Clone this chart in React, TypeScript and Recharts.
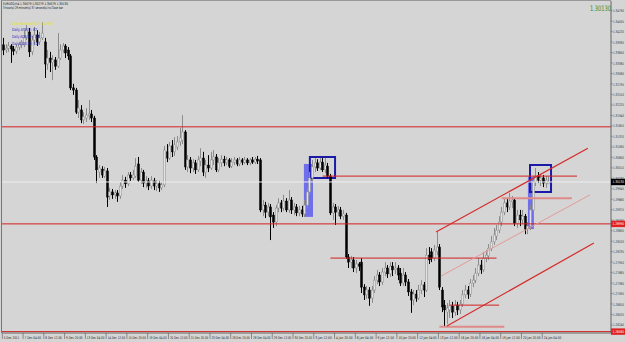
import React from 'react';
import { ComposedChart, Bar, XAxis, YAxis, ReferenceLine, ReferenceArea } from 'recharts';

const opens = [1.3386,1.3372,1.3377,1.3383,1.3375,1.3369,1.3380,1.3386,1.3386,1.3405,1.3421,1.3367,1.3399,1.3413,1.3394,1.3405,1.3394,1.3334,1.3350,1.3339,1.3345,1.3328,1.3350,1.3372,1.3383,1.3372,1.3356,1.3269,1.3263,1.3203,1.3209,1.3182,1.3187,1.3193,1.3198,1.3187,1.3081,1.3040,1.3048,1.3029,1.3043,1.2975,1.2986,1.2978,1.2983,1.2975,1.3002,1.3018,1.3008,1.3032,1.3024,1.3029,1.3062,1.3018,1.3040,1.3010,1.3016,1.3002,1.3016,1.3002,1.3008,1.2997,1.3005,1.3095,1.3078,1.3111,1.3095,1.3108,1.3122,1.3127,1.3149,1.3054,1.3073,1.3051,1.3065,1.3046,1.3070,1.3078,1.3040,1.3059,1.3051,1.3073,1.3081,1.3046,1.3065,1.3075,1.3065,1.3073,1.3056,1.3067,1.3073,1.3062,1.3073,1.3067,1.3073,1.3065,1.3073,1.3067,1.3075,1.3073,1.2937,1.2950,1.2931,1.2945,1.2923,1.2904,1.2942,1.2956,1.2942,1.2961,1.2937,1.2964,1.2937,1.2945,1.2929,1.2937,1.2926,1.2950,1.2986,1.3024,1.3054,1.3065,1.3051,1.3067,1.3046,1.3056,1.3029,1.2929,1.2945,1.2931,1.2937,1.2920,1.2923,1.2809,1.2795,1.2801,1.2779,1.2790,1.2795,1.2727,1.2706,1.2719,1.2697,1.2719,1.2746,1.2760,1.2741,1.2768,1.2779,1.2763,1.2784,1.2774,1.2779,1.2765,1.2738,1.2760,1.2741,1.2714,1.2692,1.2708,1.2697,1.2719,1.2733,1.2719,1.2814,1.2823,1.2806,1.2823,1.2836,1.2719,1.2678,1.2659,1.2665,1.2676,1.2659,1.2678,1.2665,1.2681,1.2706,1.2719,1.2708,1.2738,1.2746,1.2765,1.2787,1.2774,1.2806,1.2812,1.2833,1.2850,1.2866,1.2882,1.2904,1.2931,1.2956,1.2945,1.2959,1.2964,1.2901,1.2923,1.2910,1.2920,1.2885,1.2893,1.2937,1.3013,1.3029,1.3018,1.3024,1.3010,1.30079];
const highs = [1.3405,1.3388,1.3394,1.3388,1.3383,1.3388,1.3394,1.3399,1.3426,1.3440,1.3432,1.3410,1.3435,1.3426,1.3421,1.3448,1.3405,1.3372,1.3367,1.3358,1.3353,1.3418,1.3388,1.3391,1.3388,1.3380,1.3361,1.3280,1.3269,1.3236,1.3222,1.3203,1.3214,1.3236,1.3209,1.3193,1.3086,1.3059,1.3056,1.3054,1.3051,1.2997,1.2994,1.2991,1.2991,1.3013,1.3032,1.3027,1.3040,1.3040,1.3046,1.3078,1.3081,1.3051,1.3046,1.3029,1.3024,1.3029,1.3024,1.3018,1.3016,1.3013,1.3111,1.3116,1.3122,1.3127,1.3135,1.3138,1.3160,1.3195,1.3154,1.3086,1.3081,1.3075,1.3073,1.3084,1.3105,1.3095,1.3073,1.3086,1.3095,1.3100,1.3089,1.3078,1.3086,1.3084,1.3081,1.3078,1.3078,1.3081,1.3078,1.3081,1.3078,1.3081,1.3078,1.3078,1.3081,1.3081,1.3084,1.3078,1.2964,1.2959,1.2956,1.2953,1.2931,1.2950,1.2969,1.2964,1.2978,1.2969,1.2991,1.2972,1.2956,1.2953,1.2948,1.2948,1.2964,1.2997,1.3040,1.3073,1.3078,1.3075,1.3078,1.3078,1.3078,1.3065,1.3035,1.2956,1.2953,1.2948,1.2945,1.2937,1.2929,1.2817,1.2812,1.2809,1.2801,1.2795,1.2806,1.2735,1.2730,1.2727,1.2730,1.2757,1.2774,1.2768,1.2779,1.2795,1.2787,1.2795,1.2795,1.2795,1.2787,1.2779,1.2779,1.2768,1.2749,1.2722,1.2719,1.2719,1.2733,1.2746,1.2741,1.2833,1.2836,1.2833,1.2842,1.2877,1.2844,1.2727,1.2692,1.2684,1.2692,1.2687,1.2692,1.2687,1.2692,1.2719,1.2733,1.2730,1.2749,1.2760,1.2779,1.2806,1.2801,1.2823,1.2828,1.2844,1.2866,1.2888,1.2896,1.2920,1.2945,1.2969,1.2969,1.2983,1.2975,1.2969,1.2937,1.2937,1.2937,1.2926,1.2904,1.2950,1.3029,1.3051,1.3040,1.3035,1.3032,1.3029,1.30279];
const lows = [1.3358,1.3364,1.3367,1.3337,1.3358,1.3361,1.3372,1.3377,1.3380,1.3399,1.3353,1.3358,1.3386,1.3383,1.3386,1.3399,1.3296,1.3318,1.3312,1.3290,1.3318,1.3323,1.3345,1.3364,1.3350,1.3345,1.3263,1.3250,1.3198,1.3187,1.3173,1.3171,1.3176,1.3182,1.3176,1.3073,1.3010,1.3024,1.3024,1.3024,1.2945,1.2964,1.2967,1.2967,1.2959,1.2967,1.2994,1.2997,1.3002,1.3016,1.3018,1.3024,1.3013,1.3008,1.2999,1.2997,1.2991,1.2994,1.2991,1.2988,1.2986,1.2991,1.2999,1.3067,1.3073,1.3081,1.3084,1.3100,1.3111,1.3116,1.3046,1.3040,1.3037,1.3040,1.3035,1.3040,1.3056,1.3029,1.3024,1.3040,1.3046,1.3059,1.3040,1.3040,1.3054,1.3056,1.3059,1.3051,1.3051,1.3059,1.3056,1.3056,1.3059,1.3062,1.3059,1.3059,1.3062,1.3062,1.3062,1.2931,1.2920,1.2915,1.2920,1.2855,1.2888,1.2893,1.2931,1.2931,1.2934,1.2931,1.2929,1.2926,1.2923,1.2920,1.2920,1.2918,1.2918,1.2942,1.2978,1.3016,1.3040,1.3043,1.3046,1.3040,1.3037,1.3024,1.2923,1.2910,1.2896,1.2920,1.2912,1.2910,1.2804,1.2779,1.2779,1.2768,1.2765,1.2771,1.2711,1.2692,1.2695,1.2676,1.2684,1.2711,1.2735,1.2730,1.2733,1.2757,1.2752,1.2755,1.2757,1.2763,1.2746,1.2730,1.2730,1.2730,1.2703,1.2657,1.2678,1.2687,1.2692,1.2708,1.2700,1.2714,1.2790,1.2795,1.2798,1.2814,1.2719,1.2659,1.2619,1.2627,1.2643,1.2643,1.2649,1.2651,1.2654,1.2673,1.2697,1.2695,1.2700,1.2727,1.2738,1.2757,1.2763,1.2768,1.2795,1.2801,1.2825,1.2842,1.2855,1.2874,1.2893,1.2923,1.2931,1.2937,1.2942,1.2893,1.2888,1.2893,1.2899,1.2871,1.2871,1.2882,1.2929,1.3002,1.3010,1.3002,1.2999,1.2997,1.30079];
const closes = [1.3372,1.3377,1.3383,1.3375,1.3369,1.3380,1.3386,1.3394,1.3405,1.3426,1.3367,1.3399,1.3413,1.3394,1.3405,1.3418,1.3334,1.3350,1.3339,1.3345,1.3328,1.3350,1.3372,1.3383,1.3364,1.3356,1.3269,1.3263,1.3203,1.3214,1.3182,1.3190,1.3195,1.3198,1.3187,1.3081,1.3046,1.3051,1.3032,1.3043,1.2972,1.2986,1.2978,1.2983,1.2975,1.3002,1.3018,1.3008,1.3032,1.3024,1.3032,1.3056,1.3018,1.3040,1.3010,1.3016,1.3002,1.3018,1.3002,1.3008,1.2997,1.3005,1.3100,1.3078,1.3111,1.3095,1.3114,1.3122,1.3133,1.3149,1.3054,1.3073,1.3051,1.3065,1.3046,1.3073,1.3078,1.3040,1.3059,1.3051,1.3073,1.3081,1.3046,1.3065,1.3075,1.3065,1.3073,1.3056,1.3067,1.3073,1.3062,1.3073,1.3067,1.3073,1.3065,1.3073,1.3067,1.3075,1.3070,1.2937,1.2950,1.2931,1.2945,1.2918,1.2904,1.2942,1.2956,1.2942,1.2961,1.2937,1.2964,1.2937,1.2945,1.2929,1.2937,1.2926,1.2950,1.2986,1.3024,1.3054,1.3065,1.3051,1.3067,1.3046,1.3059,1.3029,1.2929,1.2945,1.2931,1.2937,1.2920,1.2926,1.2809,1.2795,1.2801,1.2779,1.2790,1.2784,1.2727,1.2706,1.2719,1.2697,1.2719,1.2746,1.2760,1.2741,1.2768,1.2779,1.2763,1.2784,1.2774,1.2779,1.2760,1.2738,1.2760,1.2741,1.2714,1.2692,1.2708,1.2697,1.2719,1.2733,1.2719,1.2814,1.2801,1.2806,1.2828,1.2836,1.2727,1.2673,1.2665,1.2670,1.2676,1.2659,1.2678,1.2665,1.2681,1.2706,1.2719,1.2708,1.2738,1.2746,1.2765,1.2787,1.2774,1.2806,1.2814,1.2833,1.2850,1.2869,1.2882,1.2904,1.2931,1.2956,1.2945,1.2961,1.2964,1.2901,1.2923,1.2910,1.2920,1.2885,1.2893,1.2937,1.3013,1.3029,1.3018,1.3024,1.3010,1.3018,1.30130];

const timeLabels = ['5 Dec 2011','7 Dec 04:00','8 Dec 12:00','9 Dec 20:00','13 Dec 04:00','14 Dec 12:00','15 Dec 20:00','19 Dec 04:00','20 Dec 12:00','21 Dec 20:00','23 Dec 04:00','26 Dec 20:00','28 Dec 04:00','29 Dec 12:00','30 Dec 20:00','3 Jan 12:00','4 Jan 20:00','6 Jan 04:00','9 Jan 12:00','10 Jan 20:00','12 Jan 04:00','13 Jan 12:00','16 Jan 20:00','18 Jan 04:00','19 Jan 12:00','20 Jan 20:00','24 Jan 04:00'];
const barsPerLabel = 8;
const priceTicks = [1.34790,1.34505,1.34220,1.33935,1.33650,1.33365,1.33080,1.32795,1.32510,1.32225,1.31940,1.31655,1.31370,1.31085,1.30800,1.30515,1.30230,1.29945,1.29660,1.29375,1.29090,1.28805,1.28520,1.28235,1.27950,1.27665,1.27380,1.27095,1.26810,1.26525,1.26240];

const currentPrice = 1.30130;
const fullLevels = [1.3163, 1.2899, 1.2606];
const redLabelLevels = [1.2899, 1.2606];
const segLevels = [
  { price: 1.3029, from: 123, to: 221 },
  { price: 1.2806, from: 126, to: 190 },
  { price: 1.2678, from: 172, to: 191 },
];
const pinkLevels = [
  { price: 1.2969, from: 192, to: 219 },
  { price: 1.2619, from: 168, to: 193 },
];
const channel = [
  { x1: 166.7, y1: 1.2877, x2: 225.2, y2: 1.3105, color: '#d42a2a', w: 1.2 },
  { x1: 168.6, y1: 1.2757, x2: 226.0, y2: 1.2978, color: '#e49a9a', w: 1 },
  { x1: 170.9, y1: 1.2621, x2: 227.5, y2: 1.2847, color: '#d42a2a', w: 1.2 },
];
const blueFills = [
  { x1: 115.8, x2: 119.3, y1: 1.2918, y2: 1.3062 },
  { x1: 202.1, x2: 204.4, y1: 1.2885, y2: 1.3027 },
];
const blueBoxes = [
  { x1: 118.1, x2: 127.8, y1: 1.3024, y2: 1.3081 },
  { x1: 202.9, x2: 211.0, y1: 1.2986, y2: 1.3059 },
];

const titleText = 'EURUSD,H4  1.30079 1.30279 1.30079 1.30130';
const timerText = '3 hour(s) 29 minute(s) 37 second(s) to Close bar';
const yellowText = 'Daily Movement(3): 100.00%';
const blueTexts = ['Daily ATR(5): 87', 'Daily ADR(10): 100', 'Daily ADR(20): 117'];

const data = opens.map((o, i) => ({
  i,
  open: o,
  high: highs[i],
  low: lows[i],
  close: closes[i],
  range: [lows[i], highs[i]],
}));

const W = 625;
const H = 342;
const AXIS_Y = 333;
const AXIS_X = 611;
const FONT = 'DejaVu Sans, sans-serif';

const Candle = (props: any) => {
  const { x, y, width, height, payload } = props;
  if (x == null || y == null || !payload) return null;
  const top = height >= 0 ? y : y + height;
  const h = Math.abs(height);
  const { open, close, high, low } = payload;
  const span = high - low || 1e-9;
  const py = (v: number) => top + ((high - v) / span) * h;
  const cx = Math.round(x + width / 2) + 0.5;
  const bull = close >= open;
  const bTop = py(Math.max(open, close));
  const bBot = py(Math.min(open, close));
  const col = bull ? '#8c8c8c' : '#000000';
  return (
    <g>
      <line x1={cx} x2={cx} y1={top} y2={top + h} stroke={col} strokeWidth={1} />
      <rect
        x={cx - 1}
        y={bTop}
        width={2}
        height={Math.max(bBot - bTop, 0.8)}
        fill={bull ? '#e2e2e2' : '#000000'}
        stroke={col}
        strokeWidth={0.5}
      />
    </g>
  );
};

const TimeTick = (props: any) => {
  const { x, payload } = props;
  const idx = Math.round(payload.value / barsPerLabel);
  const label = timeLabels[idx];
  if (!label) return null;
  const len = label.length >= 12 ? 17.5 : label.length >= 11 ? 16.5 : 15.5;
  return (
    <g>
      <line x1={x - 1} x2={x - 1} y1={AXIS_Y} y2={AXIS_Y + 6} stroke="#555" strokeWidth={0.6} />
      <text x={x + 0.5} y={AXIS_Y + 6} fontSize={3.6} fontFamily={FONT} fill="#222" textLength={len} lengthAdjust="spacingAndGlyphs">
        {label}
      </text>
    </g>
  );
};

const PriceTick = (props: any) => {
  const { y, payload } = props;
  const v = payload.value;
  const isCur = Math.abs(v - currentPrice) < 1e-7;
  const isRed = redLabelLevels.some((p) => Math.abs(p - v) < 1e-7);
  const txt = v.toFixed(5);
  if (isCur || isRed) {
    return (
      <g>
        <rect x={AXIS_X} y={y - 3.2} width={14} height={6.4} fill={isCur ? '#000' : '#e02020'} />
        <text x={AXIS_X + 1.5} y={y + 1.5} fontSize={3.6} fontFamily={FONT} fill="#fff" textLength={11.5} lengthAdjust="spacingAndGlyphs">
          {txt}
        </text>
      </g>
    );
  }
  return (
    <g>
      <line x1={AXIS_X} x2={AXIS_X + 1.5} y1={y} y2={y} stroke="#555" strokeWidth={0.6} />
      <text x={AXIS_X + 2} y={y + 1.5} fontSize={3.6} fontFamily={FONT} fill="#333" textLength={11} lengthAdjust="spacingAndGlyphs">
        {txt}
      </text>
    </g>
  );
};

const axisTicks = [...priceTicks, currentPrice, ...redLabelLevels];
const timeTicks = timeLabels.map((_, k) => k * barsPerLabel);

export default function App() {
  return (
    <div style={{ position: 'absolute', left: 0, top: 0, width: W, height: H, background: '#d5d5d5', overflow: 'hidden' }}>
      <ComposedChart width={W} height={H} data={data} margin={{ top: 1, right: 0, bottom: 0, left: 2 }}>
        <XAxis
          dataKey="i"
          type="number"
          domain={[-0.5, 234.1]}
          ticks={timeTicks}
          interval={0}
          tick={<TimeTick />}
          tickLine={false}
          axisLine={{ stroke: '#666', strokeWidth: 1 }}
          height={9}
          allowDataOverflow
        />
        <YAxis
          orientation="right"
          type="number"
          domain={[1.26022, 1.35053]}
          ticks={axisTicks}
          interval={0}
          tick={<PriceTick />}
          tickLine={false}
          axisLine={{ stroke: '#666', strokeWidth: 1 }}
          width={14}
          allowDataOverflow
        />
        <ReferenceLine y={currentPrice} stroke="#eeeeee" strokeWidth={1} />
        <Bar dataKey="range" barSize={2} isAnimationActive={false} shape={(p: any) => <Candle {...p} />} />
        {blueFills.map((b, k) => (
          <ReferenceArea key={'bf' + k} x1={b.x1} x2={b.x2} y1={b.y1} y2={b.y2} fill="#6464ee" fillOpacity={0.9} stroke="none" />
        ))}
        {fullLevels.map((p, k) => (
          <ReferenceLine key={'fl' + k} y={p} stroke="#d42020" strokeWidth={1} />
        ))}
        {segLevels.map((s, k) => (
          <ReferenceLine key={'sl' + k} segment={[{ x: s.from, y: s.price }, { x: s.to, y: s.price }]} stroke="#d42020" strokeWidth={1} />
        ))}
        {pinkLevels.map((s, k) => (
          <ReferenceLine key={'pl' + k} segment={[{ x: s.from, y: s.price }, { x: s.to, y: s.price }]} stroke="#e08a8a" strokeWidth={2} />
        ))}
        {channel.map((c, k) => (
          <ReferenceLine key={'ch' + k} segment={[{ x: c.x1, y: c.y1 }, { x: c.x2, y: c.y2 }]} stroke={c.color} strokeWidth={c.w} />
        ))}
        {blueBoxes.map((b, k) => (
          <ReferenceArea key={'bb' + k} x1={b.x1} x2={b.x2} y1={b.y1} y2={b.y2} fill="none" fillOpacity={0} stroke="#1a1aa6" strokeWidth={2} />
        ))}
      </ComposedChart>
      <svg width={W} height={H} style={{ position: 'absolute', left: 0, top: 0, pointerEvents: 'none' }}>
        <line x1={1.5} x2={1.5} y1={0} y2={333} stroke="#777" strokeWidth={1} />
        <line x1={1.5} x2={611} y1={0.5} y2={0.5} stroke="#999" strokeWidth={1} />
        <text x={3} y={4.6} fontSize={3.6} fontFamily={FONT} fill="#111" textLength={65} lengthAdjust="spacingAndGlyphs">{titleText}</text>
        <text x={3} y={9.4} fontSize={3.6} fontFamily={FONT} fill="#111" textLength={60} lengthAdjust="spacingAndGlyphs">{timerText}</text>
        <text x={12} y={25} fontSize={4.2} fontFamily={FONT} fill="#e6e600" textLength={42} lengthAdjust="spacingAndGlyphs">{yellowText}</text>
        {blueTexts.map((t, k) => (
          <text key={k} x={12} y={31 + k * 6.8} fontSize={4.2} fontFamily={FONT} fill="#2424c8" textLength={[25, 28, 27][k]} lengthAdjust="spacingAndGlyphs">{t}</text>
        ))}
        <text x={590} y={10.5} fontSize={7.5} fontFamily={FONT} fill="#2e8a2e" textLength={21} lengthAdjust="spacingAndGlyphs">{currentPrice.toFixed(5)}</text>
      </svg>
    </div>
  );
}
